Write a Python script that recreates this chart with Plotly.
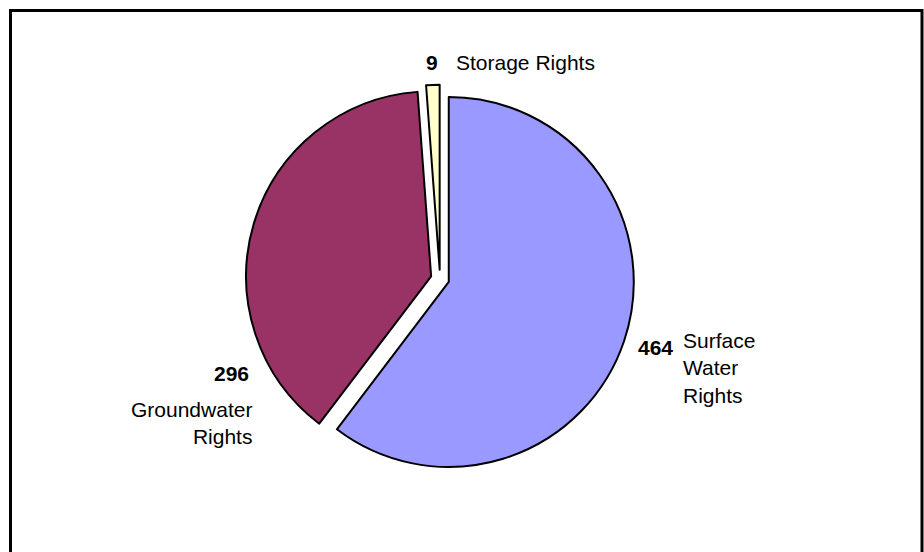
import plotly.graph_objects as go

# Water rights by type
categories = ["Surface Water Rights", "Groundwater Rights", "Storage Rights"]
counts = [464, 296, 9]
colors = ["#9999FF", "#993366", "#FFFFCC"]

W, H = 924, 552
FONT = "Liberation Sans, Arial, sans-serif"

# pie box: centre and radius in pixels
cx, cy, r, pull = 440, 279, 185, 0.05
half = r * (1 + pull)

fig = go.Figure(go.Pie(
    labels=categories,
    values=counts,
    sort=False,
    direction="clockwise",
    rotation=0,
    pull=[pull] * len(counts),
    marker=dict(colors=colors, line=dict(color="black", width=2)),
    textinfo="none",
    hoverinfo="label+value",
    showlegend=False,
    domain=dict(x=[(cx - half) / W, (cx + half) / W],
                y=[1 - (cy + half) / H, 1 - (cy - half) / H]),
))


def px(x, y):
    return dict(x=x / W, y=1 - y / H, xref="paper", yref="paper", showarrow=False)


txt = dict(family=FONT, size=21, color="black")
bold = dict(family=FONT, size=21, color="black", weight="bold")

annotations = [
    # Storage
    dict(**px(432, 62), text=f"<b>{counts[2]}</b>", font=bold, xanchor="center", yanchor="middle"),
    dict(**px(454, 62), text="Storage Rights", font=txt, xanchor="left", yanchor="middle"),
    # Surface
    dict(**px(655, 347), text=f"<b>{counts[0]}</b>", font=bold, xanchor="center", yanchor="middle"),
    dict(**px(681, 368), text="Surface<br>Water<br>Rights", font=txt, xanchor="left",
         yanchor="middle", align="left"),
    # Groundwater
    dict(**px(231, 373), text=f"<b>{counts[1]}</b>", font=bold, xanchor="center", yanchor="middle"),
    dict(**px(254, 423), text="Groundwater<br>Rights", font=txt, xanchor="right",
         yanchor="middle", align="right"),
]

fig.update_layout(
    width=W, height=H,
    margin=dict(l=0, r=0, t=0, b=0),
    paper_bgcolor="white",
    plot_bgcolor="white",
    annotations=annotations,
    shapes=[dict(type="rect", xref="paper", yref="paper",
                 x0=10.5 / W, x1=922 / W, y0=-0.05, y1=1 - 10.5 / H,
                 line=dict(color="black", width=3), fillcolor="rgba(0,0,0,0)")],
)

fig.write_html("out.html")
